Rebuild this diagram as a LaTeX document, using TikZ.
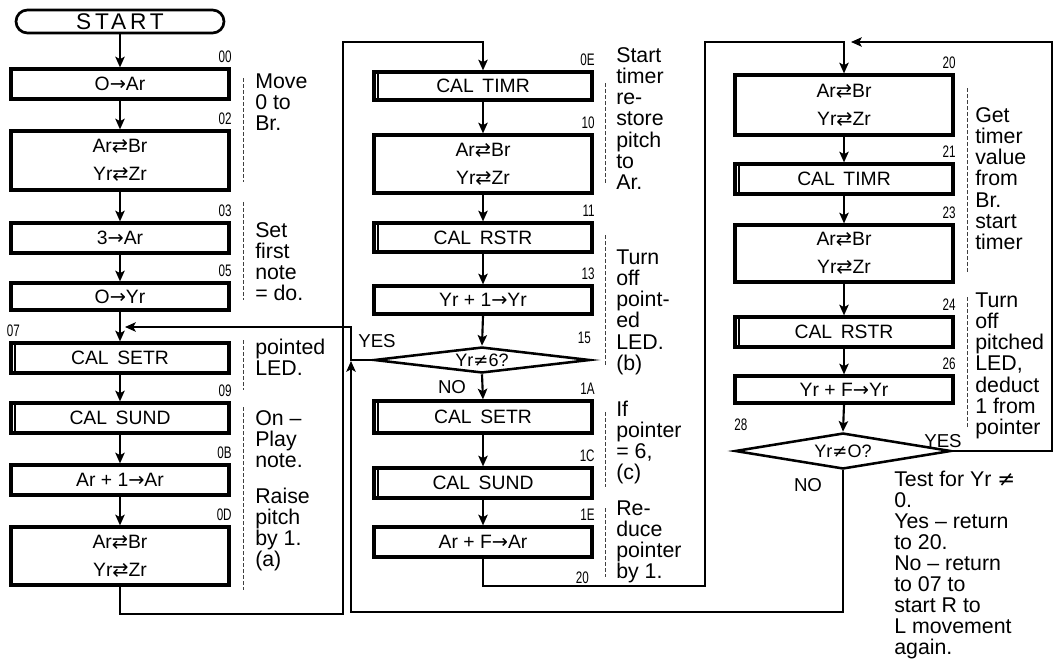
\documentclass[tikz,border=0pt]{standalone}
\usepackage{fontspec}
\setmainfont{Liberation Sans}
\newfontfamily\symfont{DejaVu Sans}
\newfontfamily\numfont[FakeStretch=0.7]{Liberation Sans}
\newfontfamily\startfont[LetterSpace=17]{Liberation Sans}
\usetikzlibrary{arrows.meta,shapes.geometric}
\newcommand{\xch}{{\symfont ⇄}}
\newcommand{\toarr}{{\symfont →}}
\newcommand{\neqsym}{{\symfont ≠}}
\newcommand{\fs}{\rule{0pt}{12pt}}
\begin{document}
\begin{tikzpicture}[x=0.75pt,y=-0.75pt,
  every node/.style={inner sep=0pt},
  pbox/.style={draw, line width=2.4pt, fill=white, minimum width=163.5pt, minimum height=#1*0.75pt, align=center, font=\fontsize{14.5}{21}\selectfont},
  dia/.style={draw, diamond, line width=1.9pt, fill=white, aspect=6, minimum width=162pt, minimum height=#1*0.75pt, font=\fontsize{13.5}{13.5}\selectfont},
  term/.style={draw, line width=2pt, rounded corners=8.6pt, minimum width=156pt, minimum height=17.25pt, font=\fontsize{17}{17}\startfont},
  conn/.style={line width=1.6pt},
  arr/.style={conn, -{Stealth[length=8pt,width=7pt,inset=1.8pt]}},
  lab/.style={font=\fontsize{12.5}{12.5}\numfont},
  ann/.style={anchor=north west, align=left, font=\fontsize{16}{15.9}\selectfont},
  yn/.style={font=\fontsize{14}{14}\selectfont},
  brk/.style={line width=0.6pt, dash pattern=on 3pt off 1.5pt, black!75}
]
\useasboundingbox (0,0) rectangle (1053,661);
\fill[white] (0,0) rectangle (1053,661);

% ---------- column 1 ----------
\node[term] (start) at (120,21.5) {START};
\node[pbox=30] (b00) at (120,84) {O\toarr Ar};
\node[pbox=59] (b02) at (120,160.5) {Ar\xch Br\\Yr\xch Zr};
\node[pbox=30] (b03) at (120,238) {3\toarr Ar};
\node[pbox=27] (b05) at (120,296.5) {O\toarr Yr};
\node[pbox=30] (b07) at (120,358) {CAL\ \,SETR};
\node[pbox=30] (b09) at (120,418) {CAL\ \,SUND};
\node[pbox=30] (b0B) at (120,480) {Ar + 1\toarr Ar};
\node[pbox=58] (b0D) at (120,556) {Ar\xch Br\\Yr\xch Zr};

% ---------- column 2 ----------
\node[pbox=28] (b0E) at (483,86) {CAL\ \,TIMR};
\node[pbox=58] (b10) at (483,164) {Ar\xch Br\\Yr\xch Zr};
\node[pbox=29] (b11) at (483,237.5) {CAL\ \,RSTR};
\node[pbox=28] (b13) at (483,300) {Yr + 1\toarr Yr};
\node[dia=26] (d15) at (482,360) {Yr\neqsym 6?};
\node[pbox=32] (b1A) at (483,417) {CAL\ \,SETR};
\node[pbox=30] (b1C) at (483,483) {CAL\ \,SUND};
\node[pbox=30] (b1E) at (483,542) {Ar + F\toarr Ar};

% ---------- column 3 ----------
\node[pbox=60] (b20) at (844,105) {Ar\xch Br\\Yr\xch Zr};
\node[pbox=30] (b21) at (844,179) {CAL\ \,TIMR};
\node[pbox=57] (b23) at (844,253.5) {Ar\xch Br\\Yr\xch Zr};
\node[pbox=30] (b24) at (844,332) {CAL\ \,RSTR};
\node[pbox=27] (b26) at (844,389.5) {Yr + F\toarr Yr};
\node[dia=36] (d28) at (843,451) {Yr\neqsym O?};

% subroutine double left edges
\foreach \n in {b07,b09,b0E,b11,b1A,b1C,b21,b24}
  \draw[line width=1.2pt] ([xshift=4pt]\n.north west) -- ([xshift=4pt]\n.south west);

% ---------- step labels ----------
\foreach \n/\t in {b00/00,b02/02,b03/03,b05/05,b09/09,b0B/0B,b0D/0D,
                   b0E/0E,b10/10,b11/11,b13/13,b1A/1A,b1C/1C,b1E/1E,
                   b20/20,b21/21,b23/23,b24/24,b26/26}
  \node[lab, anchor=base east] (l\n) at ([xshift=1pt,yshift=4pt]\n.north east) {\t};
\node[lab, anchor=base west] (lb07) at ([xshift=-2pt,yshift=4pt]b07.north west) {07};
\node[lab, anchor=base east] (l15) at (591,343) {15};
\node[lab, anchor=base east] (l20b) at (589,583) {20};
\node[lab, anchor=base west] (l28) at (734,430) {28};

% ---------- junction coordinates ----------
\coordinate (L1a) at (343,614);
\coordinate (L1b) at (343,42);
\coordinate (L2a) at (705,586);
\coordinate (L2b) at (705,42);
\coordinate (R2) at (1052,42);
\coordinate (T20) at (851,42);
\coordinate (N1) at (351,612);
\coordinate (J15) at (351,361);
\coordinate (Y1) at (351,327);
\coordinate (J07) at (125,327);

% ---------- connectors ----------
\draw[arr] (start.south) -- (b00.north);
\draw[arr] (b00.south) -- (b02.north);
\draw[arr] (b02.south) -- (b03.north);
\draw[arr] (b03.south) -- (b05.north);
\draw[arr] (b05.south) -- (b07.north);
\draw[arr] (b07.south) -- (b09.north);
\draw[arr] (b09.south) -- (b0B.north);
\draw[arr] (b0B.south) -- (b0D.north);
\draw[arr] (b0D.south) |- (L1a) -- (L1b) -| (b0E.north);

\draw[arr] (b0E.south) -- (b10.north);
\draw[arr] (b10.south) -- (b11.north);
\draw[arr] (b11.south) -- (b13.north);
\draw[arr] (b13.south) -- (d15.north);
\draw[arr] (d15.south) -- (b1A.north);
\draw[arr] (b1A.south) -- (b1C.north);
\draw[arr] (b1C.south) -- (b1E.north);
\draw[arr] (b1E.south) |- (L2a) -- (L2b) -| (b20.north);
\draw[arr] (d15.west) -| (Y1) -- (J07);

\draw[arr] (b20.south) -- (b21.north);
\draw[arr] (b21.south) -- (b23.north);
\draw[arr] (b23.south) -- (b24.north);
\draw[arr] (b24.south) -- (b26.north);
\draw[arr] (b26.south) -- (d28.north);
\draw[arr] (d28.east) -| (R2) -- (T20);
\draw[arr] (d28.south) |- (N1) -- (J15);

% ---------- YES / NO ----------
\node[yn] (yes15) at (377,341) {YES};
\node[yn] (no15) at (452,387) {NO};
\node[yn] (yes28) at (943,441) {YES};
\node[yn] (no28) at (808,485) {NO};

% ---------- annotations ----------
\node[ann] (a1) at (255,72) {\fs Move\\0 to\\Br.};
\node[ann] (a2) at (255,221) {\fs Set\\first\\note\\= do.};
\node[ann] (a3) at (255,338) {\fs pointed\\LED.};
\node[ann] (a4) at (255,409) {\fs On –\\Play\\note.};
\node[ann] (a5) at (255,487) {\fs Raise\\pitch\\by 1.\\(a)};

\node[ann] (a6) at (616,46) {\fs Start\\timer\\re-\\store\\pitch\\to\\Ar.};
\node[ann] (a7) at (616,248) {\fs Turn\\off\\point-\\ed\\LED.\\(b)};
\node[ann] (a8) at (616,400) {\fs If\\pointer\\= 6,\\(c)};
\node[ann] (a9) at (616,499) {\fs Re-\\duce\\pointer\\by 1.};

\node[ann] (a10) at (975,106) {\fs Get\\timer\\value\\from\\Br.\\start\\timer};
\node[ann] (a11) at (975,291) {\fs Turn\\off\\pitched\\LED,\\deduct\\1 from\\pointer};
\node[ann, font=\fontsize{16}{15.75}\selectfont] (a12) at (894,470) {\fs Test for Yr \neqsym\\0.\\Yes – return\\to 20.\\No – return\\to 07 to\\start R to\\L movement\\again.};

% dashed brackets
\draw[brk] (243,78) -- (243,182);
\draw[brk] (243,202) -- (243,300);
\draw[brk] (243,340) -- (243,390);
\draw[brk] (243,407) -- (243,590);
\draw[brk] (605,83) -- (605,183);
\draw[brk] (605,235) -- (605,365);
\draw[brk] (605,412) -- (605,487);
\draw[brk] (605,508) -- (605,577);
\draw[brk] (967,88) -- (967,272);
\draw[brk] (967,297) -- (967,428);
\end{tikzpicture}
\end{document}
